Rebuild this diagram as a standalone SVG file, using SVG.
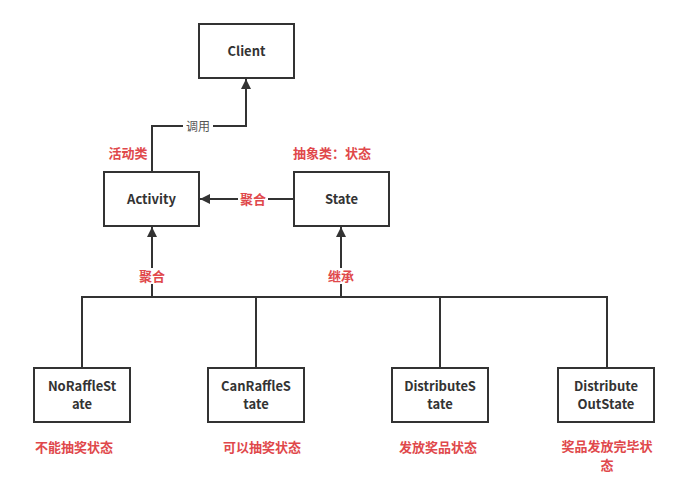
<svg xmlns="http://www.w3.org/2000/svg" width="680" height="498" viewBox="0 0 680 498">
<style>
.box{fill:#fff;stroke:#333;stroke-width:2}
.line{fill:none;stroke:#333;stroke-width:2}
.t{font-family:"Noto Sans CJK SC","Noto Sans",sans-serif;font-weight:bold;font-size:13px;fill:#333;text-anchor:middle}
.r{font-family:"Noto Sans CJK SC",sans-serif;font-weight:bold;font-size:13px;fill:#e0484b;text-anchor:middle}
.g{font-family:"Noto Sans CJK SC",sans-serif;font-size:12px;fill:#555;text-anchor:middle}
</style>
<defs>
<marker id="arr" viewBox="0 0 10 10" refX="10" refY="5" markerWidth="10" markerHeight="10" markerUnits="userSpaceOnUse" orient="auto">
<path d="M0,0 L10,5 L0,10 Z" fill="#333"/>
</marker>
</defs>
<rect width="680" height="498" fill="#fff"/>
<g id="connectors">
<path class="line" d="M152,172 V126 H246 V79" marker-end="url(#arr)"/>
<rect x="183" y="118" width="30" height="16" fill="#fff"/>
<text class="g" x="198" y="131">调用</text>
<path class="line" d="M294,199 H200" marker-end="url(#arr)"/>
<rect x="238" y="191" width="30" height="16" fill="#fff"/>
<text class="r" x="253" y="204">聚合</text>
<path class="line" d="M152,297 V227" marker-end="url(#arr)"/>
<rect x="137" y="268" width="30" height="16" fill="#fff"/>
<text class="r" x="152" y="281">聚合</text>
<path class="line" d="M341,297 V227" marker-end="url(#arr)"/>
<rect x="326" y="268" width="30" height="16" fill="#fff"/>
<text class="r" x="341" y="281">继承</text>
<path class="line" d="M82,368 V297 H607 V368 M256,297 V368 M440,297 V368"/>
</g>
<g id="client"><rect class="box" x="199" y="24" width="95" height="54"/><text class="t" x="246.5" y="56">Client</text></g>
<g id="activity"><rect class="box" x="104" y="172" width="95" height="54"/><text class="t" x="151.5" y="204">Activity</text></g>
<text class="r" x="128" y="158">活动类</text>
<g id="state"><rect class="box" x="294" y="172" width="95" height="54"/><text class="t" x="341.5" y="204">State</text></g>
<text class="r" x="332" y="158">抽象类：状态</text>
<g id="noraffle"><rect class="box" x="34" y="368" width="96" height="54"/><text class="t" x="82" y="391">NoRaffleSt</text><text class="t" x="82" y="409">ate</text></g>
<text class="r" x="74" y="452">不能抽奖状态</text>
<g id="canraffle"><rect class="box" x="208" y="368" width="96" height="54"/><text class="t" x="256" y="391">CanRaffleS</text><text class="t" x="256" y="409">tate</text></g>
<text class="r" x="262" y="452">可以抽奖状态</text>
<g id="distribute"><rect class="box" x="392" y="368" width="96" height="54"/><text class="t" x="440" y="391">DistributeS</text><text class="t" x="440" y="409">tate</text></g>
<text class="r" x="438" y="452">发放奖品状态</text>
<g id="distributeout"><rect class="box" x="558" y="368" width="96" height="54"/><text class="t" x="606" y="391">Distribute</text><text class="t" x="606" y="409">OutState</text></g>
<text class="r" x="607" y="451">奖品发放完毕状</text>
<text class="r" x="607" y="470">态</text>
</svg>
